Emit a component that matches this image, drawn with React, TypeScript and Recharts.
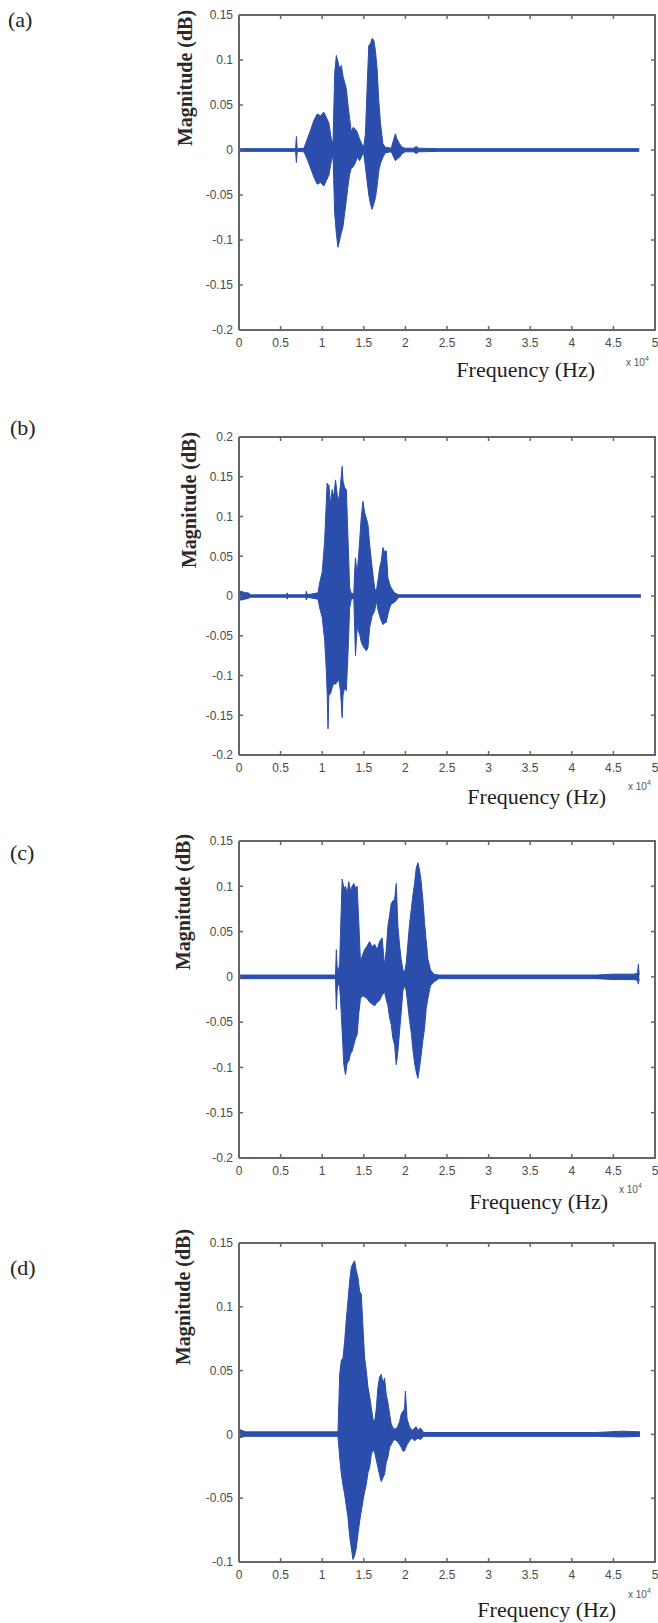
// four spectra stacked (a)-(d), each drawn as a filled min/max band
import React from 'react';
import { ComposedChart, Area, XAxis, YAxis } from 'recharts';

const freqTicks = [0, 0.5, 1, 1.5, 2, 2.5, 3, 3.5, 4, 4.5, 5];
const magTicks015 = [-0.2, -0.15, -0.1, -0.05, 0, 0.05, 0.1, 0.15];
const magTicks02 = [-0.2, -0.15, -0.1, -0.05, 0, 0.05, 0.1, 0.15, 0.2];
const magTicksD = [-0.1, -0.05, 0, 0.05, 0.1, 0.15];

// (a)
const freqA = [0, 0.68, 0.69, 0.70, 0.78, 0.82, 0.86, 0.90, 0.94, 0.98, 1.02, 1.05, 1.08, 1.11, 1.13, 1.15, 1.17, 1.19, 1.21, 1.23, 1.25, 1.27, 1.29, 1.31, 1.33, 1.35, 1.37, 1.40, 1.42, 1.45, 1.48, 1.50, 1.52, 1.54, 1.56, 1.58, 1.60, 1.62, 1.64, 1.66, 1.68, 1.70, 1.73, 1.76, 1.83, 1.86, 1.88, 1.90, 1.93, 1.96, 2.00, 2.10, 2.13, 2.16, 2.4, 4.81];
const highA = [0.0015, 0.0015, 0.015, 0.0015, 0.002, 0.012, 0.022, 0.033, 0.040, 0.038, 0.042, 0.036, 0.030, 0.012, 0.008, 0.085, 0.105, 0.098, 0.090, 0.094, 0.082, 0.075, 0.068, 0.050, 0.035, 0.020, 0.025, 0.023, 0.020, 0.012, 0.006, 0.004, 0.018, 0.070, 0.116, 0.118, 0.124, 0.122, 0.110, 0.090, 0.055, 0.030, 0.007, 0.003, 0.002, 0.012, 0.018, 0.012, 0.007, 0.003, 0.002, 0.002, 0.004, 0.002, 0.0015, 0.0015];
const lowA = [-0.0015, -0.0015, -0.014, -0.0015, -0.002, -0.010, -0.020, -0.030, -0.038, -0.036, -0.040, -0.034, -0.028, -0.012, -0.006, -0.070, -0.093, -0.108, -0.100, -0.092, -0.085, -0.070, -0.056, -0.040, -0.027, -0.020, -0.019, -0.014, -0.008, -0.012, -0.006, -0.004, -0.019, -0.035, -0.050, -0.060, -0.066, -0.060, -0.053, -0.040, -0.023, -0.015, -0.008, -0.003, -0.002, -0.008, -0.012, -0.010, -0.008, -0.004, -0.002, -0.002, -0.004, -0.002, -0.0015, -0.0015];

// (b)
const freqB = [0, 0.03, 0.07, 0.11, 0.14, 0.57, 0.58, 0.59, 0.80, 0.81, 0.82, 0.95, 0.97, 1.00, 1.03, 1.05, 1.06, 1.07, 1.08, 1.10, 1.12, 1.14, 1.16, 1.18, 1.20, 1.22, 1.24, 1.25, 1.27, 1.29, 1.31, 1.33, 1.35, 1.38, 1.39, 1.40, 1.42, 1.45, 1.47, 1.49, 1.51, 1.53, 1.55, 1.57, 1.60, 1.63, 1.65, 1.67, 1.69, 1.71, 1.73, 1.75, 1.77, 1.79, 1.81, 1.83, 1.87, 1.92, 4.83];
const highB = [0.005, 0.006, 0.004, 0.004, 0.0015, 0.0015, 0.004, 0.0015, 0.0015, 0.006, 0.0015, 0.004, 0.017, 0.030, 0.070, 0.120, 0.142, 0.130, 0.140, 0.115, 0.134, 0.125, 0.146, 0.128, 0.120, 0.140, 0.163, 0.145, 0.136, 0.134, 0.073, 0.010, 0.003, 0.003, 0.030, 0.048, 0.027, 0.069, 0.100, 0.119, 0.105, 0.098, 0.090, 0.065, 0.036, 0.010, 0.006, 0.019, 0.035, 0.044, 0.061, 0.055, 0.057, 0.023, 0.015, 0.010, 0.004, 0.0015, 0.0015];
const lowB = [-0.005, -0.005, -0.004, -0.003, -0.0015, -0.0015, -0.004, -0.0015, -0.0015, -0.005, -0.0015, -0.004, -0.015, -0.027, -0.056, -0.095, -0.123, -0.167, -0.125, -0.123, -0.115, -0.110, -0.111, -0.108, -0.105, -0.120, -0.153, -0.125, -0.115, -0.119, -0.073, -0.015, -0.004, -0.003, -0.040, -0.075, -0.040, -0.048, -0.058, -0.063, -0.066, -0.069, -0.065, -0.040, -0.025, -0.019, -0.006, -0.017, -0.025, -0.031, -0.036, -0.034, -0.033, -0.023, -0.015, -0.010, -0.008, -0.0015, -0.0015];

// (c)
const freqC = [0, 1.16, 1.17, 1.18, 1.19, 1.21, 1.22, 1.24, 1.26, 1.28, 1.30, 1.32, 1.34, 1.36, 1.38, 1.40, 1.42, 1.44, 1.46, 1.48, 1.51, 1.54, 1.57, 1.60, 1.63, 1.66, 1.69, 1.72, 1.75, 1.77, 1.79, 1.81, 1.83, 1.85, 1.87, 1.89, 1.91, 1.93, 1.95, 1.97, 1.99, 2.01, 2.03, 2.05, 2.07, 2.09, 2.11, 2.13, 2.15, 2.17, 2.19, 2.21, 2.23, 2.25, 2.27, 2.30, 2.34, 2.40, 4.30, 4.50, 4.75, 4.79, 4.80, 4.81];
const highC = [0.002, 0.002, 0.030, 0.010, 0.004, 0.015, 0.048, 0.108, 0.098, 0.100, 0.092, 0.105, 0.095, 0.100, 0.103, 0.098, 0.100, 0.060, 0.016, 0.023, 0.030, 0.034, 0.039, 0.033, 0.036, 0.030, 0.039, 0.043, 0.012, 0.030, 0.056, 0.068, 0.081, 0.084, 0.085, 0.103, 0.056, 0.035, 0.019, 0.008, 0.005, 0.015, 0.037, 0.058, 0.074, 0.090, 0.103, 0.120, 0.126, 0.118, 0.105, 0.085, 0.060, 0.040, 0.020, 0.008, 0.003, 0.002, 0.002, 0.003, 0.003, 0.004, 0.014, 0.002];
const lowC = [-0.002, -0.002, -0.036, -0.015, -0.006, -0.012, -0.024, -0.060, -0.097, -0.108, -0.095, -0.093, -0.085, -0.082, -0.075, -0.068, -0.064, -0.040, -0.024, -0.021, -0.022, -0.024, -0.028, -0.030, -0.032, -0.028, -0.026, -0.020, -0.017, -0.025, -0.032, -0.045, -0.053, -0.068, -0.075, -0.097, -0.082, -0.060, -0.039, -0.015, -0.010, -0.015, -0.032, -0.048, -0.061, -0.080, -0.095, -0.105, -0.112, -0.100, -0.086, -0.070, -0.057, -0.035, -0.024, -0.010, -0.006, -0.002, -0.002, -0.003, -0.003, -0.004, -0.008, -0.002];

// (d)
const freqD = [0, 0.04, 0.08, 1.19, 1.21, 1.23, 1.25, 1.27, 1.29, 1.31, 1.33, 1.35, 1.37, 1.39, 1.41, 1.43, 1.45, 1.47, 1.49, 1.51, 1.53, 1.55, 1.57, 1.59, 1.61, 1.63, 1.65, 1.67, 1.69, 1.71, 1.73, 1.75, 1.77, 1.79, 1.81, 1.83, 1.86, 1.90, 1.93, 1.95, 1.97, 1.99, 2.00, 2.02, 2.05, 2.08, 2.11, 2.13, 2.15, 2.18, 2.22, 4.30, 4.60, 4.82];
const highD = [0.004, 0.003, 0.002, 0.002, 0.047, 0.058, 0.060, 0.073, 0.090, 0.105, 0.120, 0.131, 0.134, 0.136, 0.128, 0.123, 0.112, 0.110, 0.084, 0.060, 0.050, 0.037, 0.030, 0.021, 0.012, 0.010, 0.020, 0.037, 0.045, 0.047, 0.040, 0.044, 0.031, 0.025, 0.016, 0.008, 0.004, 0.005, 0.010, 0.016, 0.018, 0.020, 0.034, 0.012, 0.006, 0.003, 0.005, 0.006, 0.003, 0.005, 0.0015, 0.0015, 0.0025, 0.002];
const lowD = [-0.003, -0.002, -0.0015, -0.0015, -0.018, -0.031, -0.040, -0.047, -0.056, -0.065, -0.080, -0.089, -0.098, -0.095, -0.089, -0.078, -0.068, -0.060, -0.052, -0.045, -0.039, -0.030, -0.026, -0.016, -0.012, -0.014, -0.020, -0.026, -0.032, -0.037, -0.034, -0.031, -0.022, -0.018, -0.010, -0.008, -0.004, -0.005, -0.008, -0.010, -0.013, -0.013, -0.011, -0.008, -0.005, -0.003, -0.005, -0.004, -0.003, -0.004, -0.0015, -0.0015, -0.002, -0.0015];

const BLUE = '#2b4dab';
const FRAME = '#666666';
const TICK_TXT = '#4a4a4a';
const SANS = '"Liberation Sans", Arial, sans-serif';
const SERIF = '"Liberation Serif", "Times New Roman", serif';

const PLOT_L = 239;
const PLOT_W = 416; // 239 -> 655

const toRows = (f: number[], lo: number[], hi: number[]) =>
  f.map((v, i) => ({ f: v, band: [lo[i], hi[i]] }));

type PanelProps = {
  letter: string;
  rows: { f: number; band: number[] }[];
  yDomain: [number, number];
  yTicks: number[];
  plotTop: number;
  plotBottom: number;
  letterPos: [number, number];
  yLabelPos: [number, number];
  xLabelPos: [number, number];
  expPos: [number, number];
};

const Panel = (p: PanelProps) => {
  const plotH = p.plotBottom - p.plotTop;
  const axisStyle = { stroke: FRAME, strokeWidth: 2 };

  // bottom labels with inward ticks on the bottom and top edges
  const renderXTick = (props: any) => {
    const { x, y, payload } = props;
    const axisY = y - 8;
    const topY = axisY - plotH;
    return (
      <g>
        <line x1={x} x2={x} y1={axisY} y2={axisY - 4} stroke={FRAME} strokeWidth={1.5} />
        <line x1={x} x2={x} y1={topY} y2={topY + 4} stroke={FRAME} strokeWidth={1.5} />
        <text x={x} y={y} dy="0.71em" textAnchor="middle" fontSize={12} fill={TICK_TXT} fontFamily={SANS}>
          {payload.value}
        </text>
      </g>
    );
  };

  // left labels with inward ticks on the left and right edges
  const renderYTick = (props: any) => {
    const { x, y, payload } = props;
    const axisX = x + 6;
    const rightX = axisX + PLOT_W;
    return (
      <g>
        <line x1={axisX} x2={axisX + 4} y1={y} y2={y} stroke={FRAME} strokeWidth={1.5} />
        <line x1={rightX} x2={rightX - 4} y1={y} y2={y} stroke={FRAME} strokeWidth={1.5} />
        <text x={x} y={y} dy="0.355em" textAnchor="end" fontSize={12} fill={TICK_TXT} fontFamily={SANS}>
          {payload.value}
        </text>
      </g>
    );
  };

  return (
    <>
      <div style={{ position: 'absolute', left: p.letterPos[0], top: p.letterPos[1] - 13, fontFamily: SERIF, fontSize: 22, lineHeight: '26px', color: '#222' }}>
        {p.letter}
      </div>
      <div
        style={{
          position: 'absolute', left: p.yLabelPos[0], top: p.yLabelPos[1],
          transform: 'translate(-50%, -50%) rotate(-90deg)', whiteSpace: 'nowrap',
          fontFamily: SERIF, fontSize: 20, fontWeight: 'bold', color: '#2a2a2a', lineHeight: '22px',
        }}
      >
        Magnitude (dB)
      </div>
      <div style={{ position: 'absolute', right: 658 - p.xLabelPos[0], top: p.xLabelPos[1] - 13, whiteSpace: 'nowrap', fontFamily: SERIF, fontSize: 22, lineHeight: '26px', color: '#1e1e1e' }}>
        Frequency (Hz)
      </div>
      <div style={{ position: 'absolute', left: p.expPos[0], top: p.expPos[1] - 7, whiteSpace: 'nowrap', fontFamily: SANS, fontSize: 10, lineHeight: '14px', color: '#555' }}>
        x 10<sup style={{ fontSize: 7, verticalAlign: 'top', position: 'relative', top: -4 }}>4</sup>
      </div>
      <div style={{ position: 'absolute', left: 0, top: p.plotTop - 15 }}>
        <ComposedChart width={658} height={plotH + 45} data={p.rows} margin={{ top: 15, right: 3, left: 179, bottom: 0 }}>
          <XAxis
            dataKey="f" type="number" domain={[0, 5]} ticks={freqTicks} interval={0} allowDataOverflow
            height={30} tickSize={0} tickMargin={8} tickLine={false} axisLine={axisStyle} tick={renderXTick}
          />
          <YAxis
            type="number" domain={p.yDomain} ticks={p.yTicks} interval={0} allowDataOverflow
            width={60} tickSize={0} tickMargin={6} tickLine={false} axisLine={axisStyle} tick={renderYTick}
          />
          <Area
            type="linear" dataKey="band" stroke={BLUE} strokeWidth={1} fill={BLUE} fillOpacity={1}
            dot={false} activeDot={false} isAnimationActive={false}
          />
        </ComposedChart>
      </div>
      {/* top and right sides of the axes box */}
      <div
        style={{
          position: 'absolute', left: PLOT_L, top: p.plotTop - 1, width: PLOT_W - 1, height: plotH,
          borderTop: `2px solid ${FRAME}`, borderRight: `2px solid ${FRAME}`, pointerEvents: 'none',
        }}
      />
    </>
  );
};

export default function App() {
  return (
    <div style={{ position: 'absolute', left: 0, top: 0, width: 658, height: 1623, background: '#fff', overflow: 'hidden' }}>
      <Panel
        letter="(a)" rows={toRows(freqA, lowA, highA)} yDomain={[-0.2, 0.15]} yTicks={magTicks015}
        plotTop={15} plotBottom={330} letterPos={[8, 20]} yLabelPos={[185, 78]} xLabelPos={[595, 370]} expPos={[626, 363]}
      />
      <Panel
        letter="(b)" rows={toRows(freqB, lowB, highB)} yDomain={[-0.2, 0.2]} yTicks={magTicks02}
        plotTop={437} plotBottom={755} letterPos={[10, 428]} yLabelPos={[189, 500]} xLabelPos={[606, 797]} expPos={[628, 787]}
      />
      <Panel
        letter="(c)" rows={toRows(freqC, lowC, highC)} yDomain={[-0.2, 0.15]} yTicks={magTicks015}
        plotTop={841} plotBottom={1158} letterPos={[10, 853]} yLabelPos={[183, 902]} xLabelPos={[608, 1202]} expPos={[619, 1190]}
      />
      <Panel
        letter="(d)" rows={toRows(freqD, lowD, highD)} yDomain={[-0.1, 0.15]} yTicks={magTicksD}
        plotTop={1243} plotBottom={1562} letterPos={[10, 1268]} yLabelPos={[183, 1297]} xLabelPos={[616, 1610]} expPos={[628, 1595]}
      />
    </div>
  );
}
